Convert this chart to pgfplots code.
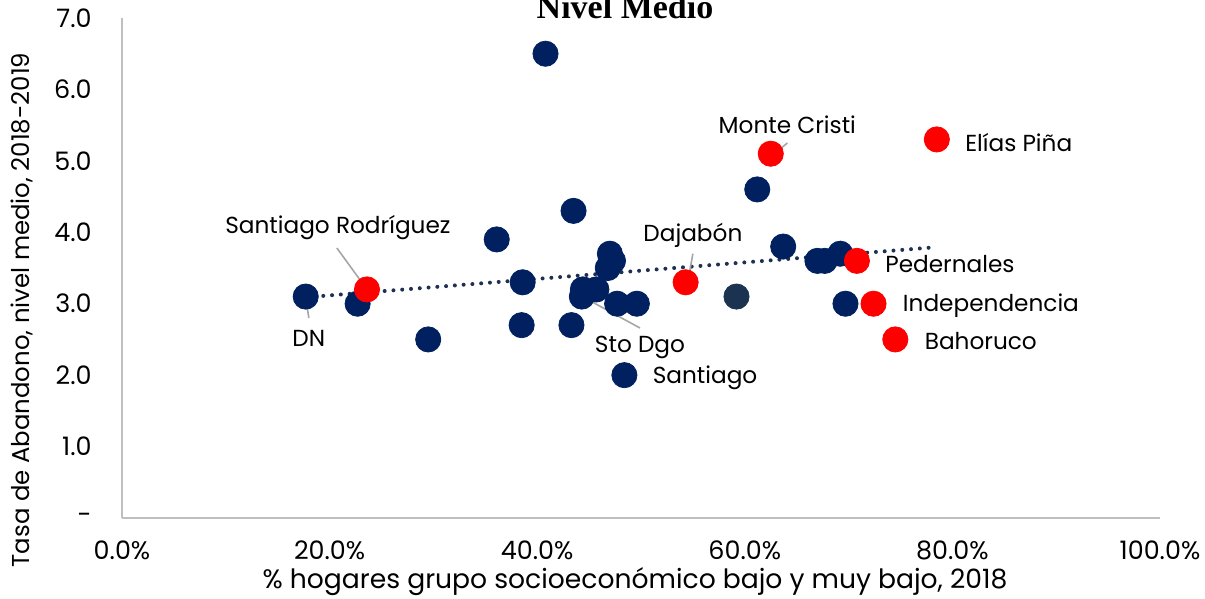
\documentclass[border=0pt]{standalone}
\usepackage{pgfplots}
\pgfplotsset{compat=1.18}
\usepackage{fontspec}
\setmainfont{Poppins}
\newfontfamily\titlefont{Liberation Serif}
\definecolor{navy}{HTML}{002060}
\definecolor{slate}{HTML}{1B3350}
\definecolor{axgray}{HTML}{BFBFBF}
\definecolor{leadgray}{HTML}{A6A6A6}
\definecolor{trend}{HTML}{1F3050}
\begin{document}
\begin{tikzpicture}[font=\fontsize{11.6}{13}\selectfont]
\useasboundingbox (-61pt,-40.5pt) rectangle (541.5pt,259pt);
\begin{axis}[
  at={(0,0)}, anchor=south west,
  scale only axis, width=519pt, height=250pt,
  xmin=0, xmax=100, ymin=0, ymax=7,
  axis x line*=bottom, axis y line*=left,
  axis line style={draw=axgray, line width=0.9pt, -},
  major tick length=0pt,
  xtick={0,20,40,60,80,100},
  xticklabels={0.0\%,20.0\%,40.0\%,60.0\%,80.0\%,100.0\%},
  ytick={0,1,2,3,4,5,6,7},
  yticklabels={-,1.0,2.0,3.0,4.0,5.0,6.0,7.0},
  tick label style={font=\fontsize{12.7}{14}\selectfont},
  xticklabel style={inner sep=0pt, yshift=-11pt},
  yticklabel style={inner sep=0pt, xshift=-15pt},
  clip=false,
]
% blue points
\addplot[only marks, mark=*, mark size=6.3pt, mark options={fill=navy, draw=navy}] coordinates {
(17.7,3.1) (22.7,3.0) (29.5,2.5) (36.1,3.9) (38.6,3.3) (38.5,2.7) (40.8,6.5)
(43.5,4.3) (43.3,2.7) (44.4,3.2) (45.7,3.2) (44.3,3.1) (47.0,3.7) (47.3,3.6)
(46.8,3.5) (47.7,3.0) (49.6,3.0) (48.4,2.0) (61.2,4.6) (63.7,3.8) (67.0,3.6)
(67.7,3.6) (69.2,3.7) (69.7,3.0)
};
% dark slate point
\addplot[only marks, mark=*, mark size=6.3pt, mark options={fill=slate, draw=slate}] coordinates {
(59.2,3.1)
};
% red points
\addplot[only marks, mark=*, mark size=6.3pt, mark options={fill=red, draw=red}] coordinates {
(23.6,3.2) (54.3,3.3) (62.5,5.1) (78.5,5.3) (70.8,3.6) (72.4,3.0) (74.5,2.5)
};
% trend line
\addplot[trend, line width=2pt, line cap=round, dash pattern=on 0pt off 4.4pt] coordinates {
(17.7,3.09) (78.3,3.79)
};
% leader lines
\draw[leadgray, line width=0.8pt] (axis cs:20.7,3.78) -- (axis cs:23.5,3.22);
\draw[leadgray, line width=0.8pt] (axis cs:17.7,3.08) -- (axis cs:18.0,2.80);
\draw[leadgray, line width=0.8pt] (axis cs:44.6,3.08) -- (axis cs:49.9,2.66);
\draw[leadgray, line width=0.8pt] (axis cs:55.0,3.70) -- (axis cs:54.5,3.30);
\draw[leadgray, line width=0.8pt] (axis cs:64.1,5.25) -- (axis cs:62.6,5.07);
% labels
\node at (axis cs:20.8,4.07) {Santiago Rodríguez};
\node at (axis cs:18.0,2.52) {DN};
\node at (axis cs:49.9,2.39) {Sto Dgo};
\node at (axis cs:55.0,3.95) {Dajabón};
\node at (axis cs:64.1,5.50) {Monte Cristi};
\node[anchor=west, inner sep=0pt] at (axis cs:81.2,5.26) {Elías Piña};
\node[anchor=west, inner sep=0pt] at (axis cs:73.5,3.56) {Pedernales};
\node[anchor=west, inner sep=0pt] at (axis cs:75.2,2.97) {Independencia};
\node[anchor=west, inner sep=0pt] at (axis cs:77.3,2.48) {Bahoruco};
\node[anchor=west, inner sep=0pt] at (axis cs:51.1,1.96) {Santiago};
\end{axis}
\node[rotate=90, font=\fontsize{12.2}{14}\selectfont] at (-50pt,104pt) {Tasa de Abandono, nivel medio, 2018-2019};
\node[font=\fontsize{13.3}{15}\selectfont] at (256.5pt,-32pt) {\% hogares grupo socioeconómico bajo y muy bajo, 2018};
\node[anchor=base] at (251.5pt,249.5pt) {\titlefont\bfseries\fontsize{17}{19}\selectfont Nivel Medio};
\end{tikzpicture}
\end{document}
